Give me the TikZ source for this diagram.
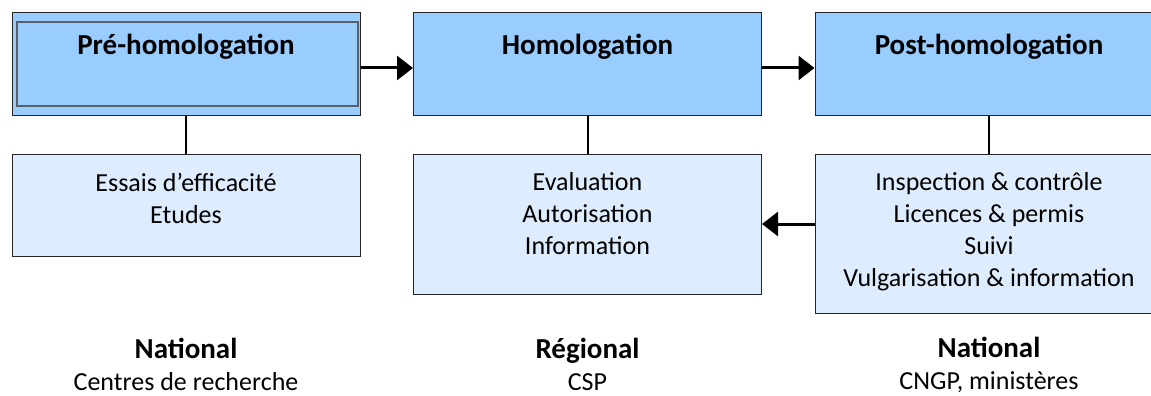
\documentclass[tikz,border=0pt]{standalone}
\usepackage{fontspec}
\setmainfont{Carlito}
\usetikzlibrary{arrows.meta, positioning}
\definecolor{phasefill}{HTML}{99CCFF}
\definecolor{taskfill}{HTML}{DDEDFF}
\definecolor{framegray}{HTML}{56606B}
\newcommand{\lvlhead}[1]{{\bfseries\fontsize{29}{32}\selectfont #1}}

\begin{document}
\begin{tikzpicture}[x=1pt, y=-1pt,
  every node/.style = {font=\fontsize{26}{32}\selectfont},
  phase/.style      = {draw=black!85, fill=phasefill, line width=1pt,
                       minimum width=348pt, minimum height=102pt, inner sep=0pt},
  phasetitle/.style = {font=\bfseries\fontsize{29}{35}\selectfont,
                       anchor=base, yshift=-42pt},
  task/.style       = {draw=black!85, fill=taskfill, line width=1pt,
                       minimum width=348pt, inner sep=0pt},
  taskitems/.style  = {align=center, anchor=north, inner sep=0pt, yshift=-19pt},
  level/.style      = {align=center, inner sep=0pt},
  link/.style       = {draw=black, line width=2pt},
  flow/.style       = {-{Triangle[length=16pt, width=24pt]}, draw=black, line width=3pt},
]
  \useasboundingbox (0,0) rectangle (1151,396);

  % ---------------------------------------------------------------- phases
  \node[phase, label={[phasetitle]north:Pré-homologation}]  (pre)   at (186,64)   {};
  \node[phase, label={[phasetitle]north:Homologation}]      (homol) at (587.5,64) {};
  \node[phase, label={[phasetitle]north:Post-homologation}] (post)  at (989,64)   {};
  \draw[framegray, line width=2pt] ([xshift=5pt, yshift=-10pt]pre.north west)
        rectangle ([xshift=-3pt, yshift=10pt]pre.south east);

  % ----------------------------------------------------------------- tasks
  \node[task, minimum height=102pt, below=38pt of pre,
        label={[taskitems]north:Essais d’efficacité\\Etudes}] (prejob) {};
  \node[task, minimum height=140pt, below=38pt of homol,
        label={[taskitems]north:Evaluation\\Autorisation\\Information}] (homoljob) {};
  \node[task, minimum height=159pt, below=38pt of post,
        label={[taskitems]north:Inspection \& contrôle\\Licences \& permis\\Suivi\\Vulgarisation \& information}] (postjob) {};

  % --------------------------------------------------------------- linkage
  \draw[link] (pre) -- (prejob);
  \draw[link] (homol) -- (homoljob);
  \draw[link] (post) -- (postjob);
  \draw[flow] ([yshift=-4pt]pre.east) -- ([yshift=-4pt]homol.west);
  \draw[flow] ([yshift=-4pt]homol.east) -- ([yshift=-4pt]post.west);
  \draw[flow] (postjob.west |- homoljob.east) -- (homoljob.east);

  % ---------------------------------------------------------------- levels
  \node[level] (lvlpre)   at (186,364)   {\lvlhead{National}\\Centres de recherche};
  \node[level] (lvlhomol) at (587.5,364) {\lvlhead{Régional}\\CSP};
  \node[level] (lvlpost)  at (989,365)   {\lvlhead{National}\\CNGP, ministères};

\end{tikzpicture}
\end{document}
